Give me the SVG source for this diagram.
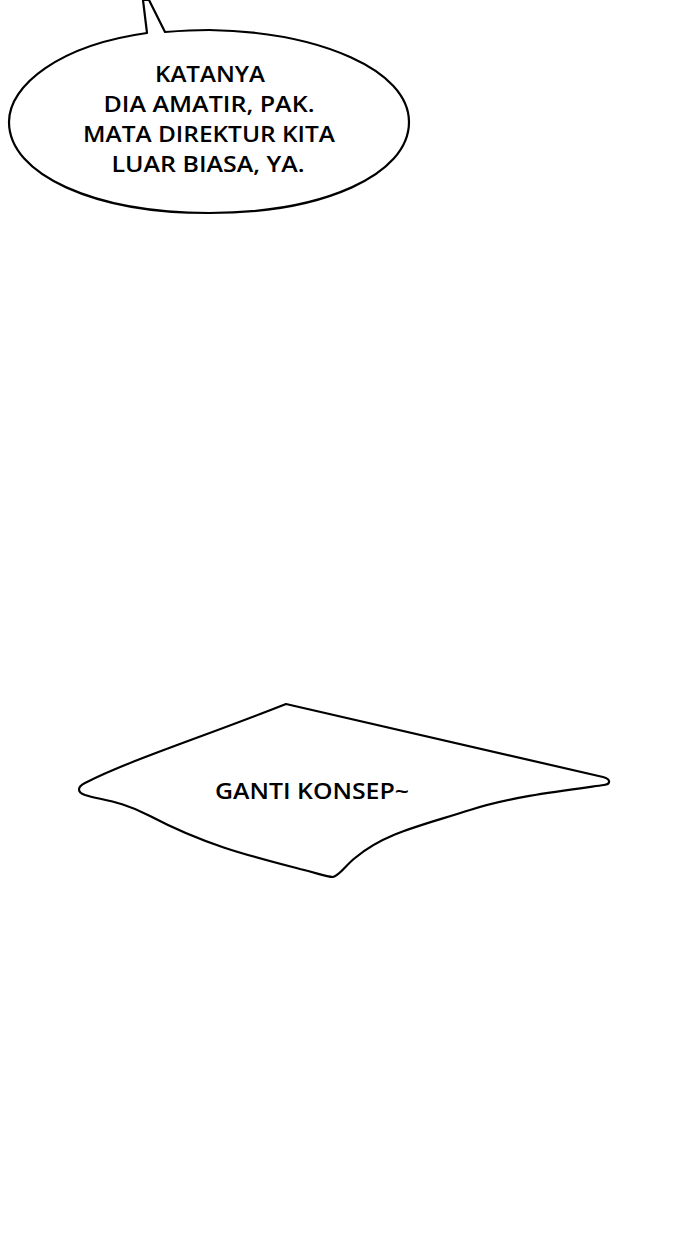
<svg xmlns="http://www.w3.org/2000/svg" width="700" height="1240" viewBox="0 0 700 1240">
<style>
.b{fill:#fff;stroke:#000;stroke-width:2.2;stroke-linejoin:round}
.t{font-family:"Open Sans","Noto Sans","Liberation Sans",sans-serif;font-size:22px;font-weight:600;fill:#000;text-anchor:middle}
</style>
<rect width="700" height="1240" fill="#fff"/>
<g id="bubble1">
<path class="b" d="M147,33 C60,45 9,85 9,122 C9,175 95,213 209,213 C323,213 409,175 409,122 C409,70 320,32 209,30 C192,30 178,31 165,32 L149,0 L143,0 Z"/>
<text class="t" x="210" y="82" textLength="110" lengthAdjust="spacingAndGlyphs">KATANYA</text>
<text class="t" x="209" y="112" textLength="211" lengthAdjust="spacingAndGlyphs">DIA AMATIR, PAK.</text>
<text class="t" x="209" y="142" textLength="252" lengthAdjust="spacingAndGlyphs">MATA DIREKTUR KITA</text>
<text class="t" x="208" y="172" textLength="193" lengthAdjust="spacingAndGlyphs">LUAR BIASA, YA.</text>
</g>
<g id="bubble2">
<path class="b" d="M286,704 L603,777 C611,779 611,784 604,785 C560,791 510,797 470,810 C420,826 385,833 355,858 C345,866 340,875 333,877 C325,877 318,873 300,869 C250,856 205,845 150,816 C120,800 100,800 85,795 C77,792 77,787 85,783 C130,760 200,738 286,704 Z"/>
<text class="t" x="312" y="799" textLength="194" lengthAdjust="spacingAndGlyphs">GANTI KONSEP~</text>
</g>
</svg>
